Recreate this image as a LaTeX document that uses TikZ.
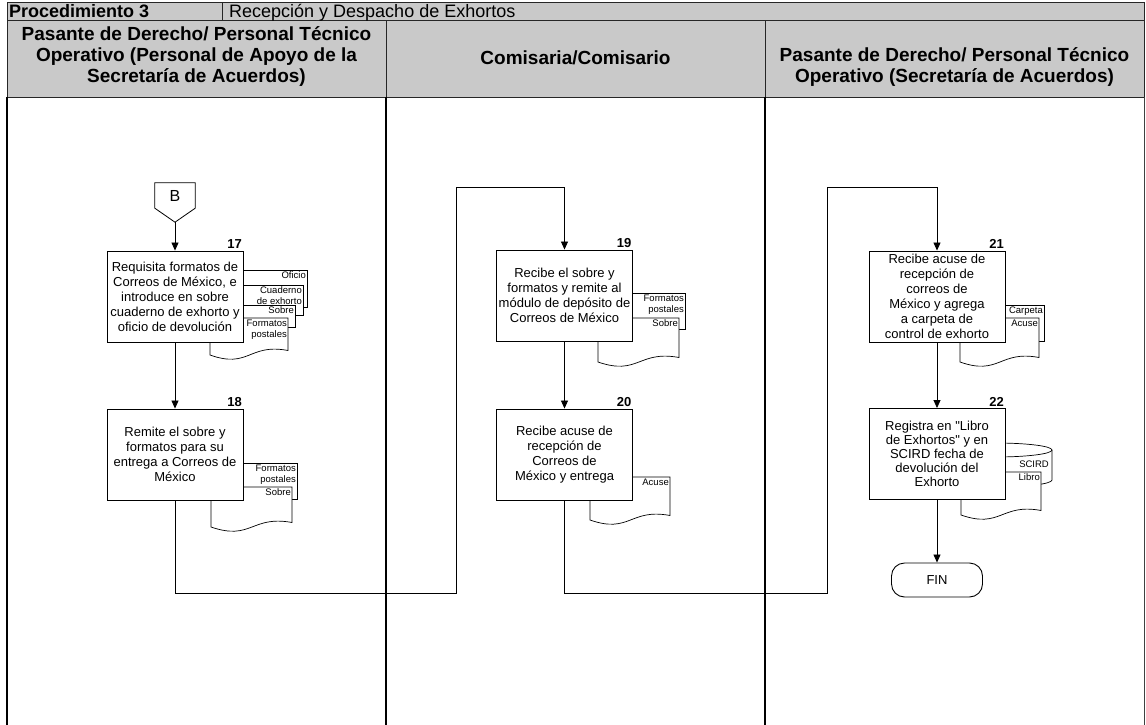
\documentclass[tikz,border=0pt]{standalone}
\usepackage{fontspec}
\setmainfont{Liberation Sans}
\usetikzlibrary{arrows.meta,calc}
\definecolor{hdr}{RGB}{201,201,201}
\newcommand{\sq}{\XeTeXglyph\XeTeXcharglyph"22\relax}
\tikzset{
 task/.style={draw=black, line width=0.9pt, fill=white, minimum width=136pt, minimum height=91pt, inner sep=1pt, align=center, font=\fontsize{13}{15}\selectfont},
 num/.style={font=\bfseries\fontsize{13}{13}\selectfont, inner sep=1.5pt, anchor=south east},
 flow/.style={draw=black, line width=0.8pt, -{Triangle[length=8pt,width=7pt]}},
 plain/.style={draw=black, line width=0.8pt},
 doc/.style={draw=black, line width=0.7pt, fill=white},
 dlbl/.style={font=\fontsize{9.5}{11}\selectfont, inner sep=0.5pt, align=right, anchor=north east},
 hdrtxt/.style={font=\bfseries\fontsize{19}{21}\selectfont, align=center, inner sep=0pt},
 cell/.style={draw=black!85, line width=0.7pt, fill=hdr},
 lane/.style={draw=black, line width=1.8pt},
}
\newcommand{\docwave}[4]{\draw[doc] (#1,#3) -- (#2,#3) -- (#2,#4-4.5) .. controls (#1/2+#2/2,#4-12) and (#1/2+#2/2,#4+14) .. (#1,#4) -- cycle;}
\newcommand{\docflat}[4]{\draw[doc] (#1,#3) rectangle (#2,#4);}
\begin{document}
\begin{tikzpicture}[x=1pt,y=-1pt]
\useasboundingbox (0,0) rectangle (1146,725);
% title row and header
\draw[cell] (7,2) rectangle (222,20);
\draw[cell] (222,2) rectangle (1144,20);
\draw[cell] (7,20) rectangle (386,97);
\draw[cell] (386,20) rectangle (765,97);
\draw[cell] (765,20) rectangle (1144,97);
\node[anchor=base west, font=\bfseries\fontsize{18}{18}\selectfont, inner sep=0pt] (tproc) at (9,17.5) {Procedimiento 3};
\node[anchor=base west, font=\fontsize{18}{18}\selectfont, inner sep=0pt] (tname) at (229,17.5) {Recepción y Despacho de Exhortos};
\node[hdrtxt] (h1) at (196.5,57) {Pasante de Derecho/ Personal Técnico\\Operativo (Personal de Apoyo de la\\Secretaría de Acuerdos)};
\node[hdrtxt] (h2) at (575.5,58) {Comisaria/Comisario};
\node[hdrtxt] (h3) at (954.5,67) {Pasante de Derecho/ Personal Técnico\\Operativo (Secretaría de Acuerdos)};
% lane lines
\draw[line width=1.5pt] (7,97) -- (7,725);
\draw[lane] (386,97) -- (386,725);
\draw[lane] (765,97) -- (765,725);
\draw[black!75, line width=0.8pt] (1144,97) -- (1144,725);
% off-page connector B
\node[minimum width=40pt, minimum height=39pt, inner sep=0pt] (B) at (175,202.5) {};
\draw[plain, fill=white] (B.north west) -- (B.north east) -- ($(B.south east)+(0,-14)$) -- (B.south) -- ($(B.south west)+(0,-14)$) -- cycle;
\node[font=\fontsize{16}{16}\selectfont, inner sep=0pt] (Bt) at ($(B.center)+(0,-6.5)$) {B};
% documents lane 1
\docflat{225}{307}{270}{307}
\docflat{225}{303}{285}{315}
\docflat{225}{295}{305}{327}
\docwave{210}{288}{318}{355}
\node[dlbl] (d17a) at (306.5,271) {Oficio};
\node[dlbl] (d17b) at (302.5,286) {Cuaderno\\de exhorto};
\node[dlbl] (d17c) at (294.5,306) {Sobre};
\node[dlbl] (d17d) at (287.5,319) {Formatos\\postales};
\docflat{225}{297}{463}{499}
\docwave{211}{292}{487}{527}
\node[dlbl] (d18a) at (296.5,464) {Formatos\\postales};
\node[dlbl] (d18b) at (291.5,488) {Sobre};
% documents lane 2
\docflat{610}{685}{293}{329}
\docwave{598}{679}{318}{362}
\node[dlbl] (d19a) at (684.5,294) {Formatos\\postales};
\node[dlbl] (d19b) at (678.5,319) {Sobre};
\docwave{590}{670}{477}{520}
\node[dlbl] (d20a) at (669.5,478) {Acuse};
% documents lane 3
\docflat{990}{1044}{305}{341}
\docwave{960}{1039}{318}{362}
\node[dlbl] (d21a) at (1043.5,306) {Carpeta};
\node[dlbl] (d21b) at (1038.5,319) {Acuse};
\draw[doc] (940,450) arc[start angle=180, end angle=0, x radius=56pt, y radius=7pt] -- (1052,480) arc[start angle=0, end angle=-180, x radius=56pt, y radius=7pt] -- cycle;
\draw[doc, fill=none] (940,450) arc[start angle=180, end angle=360, x radius=56pt, y radius=7pt];
\docwave{961}{1041}{472}{515}
\node[dlbl] (d22a) at (1049.5,460) {SCIRD};
\node[dlbl] (d22b) at (1040.5,473) {Libro};
% task boxes
\node[task] (b17) at (175,296.5) {Requisita formatos de\\Correos de México, e\\introduce en sobre\\cuaderno de exhorto y\\oficio de devolución};
\node[task] (b18) at (175,454.5) {Remite el sobre y\\formatos para su\\entrega a Correos de\\México};
\node[task] (b19) at (564.5,295.5) {Recibe el sobre y\\formatos y remite al\\módulo de depósito de\\Correos de México};
\node[task] (b20) at (564.5,454.5) {Recibe acuse de\\recepción de\\Correos de\\México y entrega};
\node[task] (b21) at (937,296.5) {Recibe acuse de\\recepción de\\correos de\\México y agrega\\a carpeta de\\control de exhorto};
\node[task, font=\fontsize{13}{14}\selectfont] (b22) at (937,454) {Registra en \sq Libro\\de Exhortos\sq{} y en\\SCIRD fecha de\\devolución del\\Exhorto};
\node[num] (n17) at (b17.north east) {17};
\node[num] (n18) at (b18.north east) {18};
\node[num] (n19) at (b19.north east) {19};
\node[num] (n20) at (b20.north east) {20};
\node[num] (n21) at (b21.north east) {21};
\node[num] (n22) at (b22.north east) {22};
\node[draw=black, line width=0.9pt, fill=white, rounded corners=13pt, minimum width=91pt, minimum height=34pt, font=\fontsize{13}{13}\selectfont] (fin) at (937,580) {FIN};
% connectors
\coordinate (c1) at (456,593);
\coordinate (c2) at (456,187);
\coordinate (c3) at (827,593);
\coordinate (c4) at (827,187);
\draw[flow] (B.south) -- (b17.north);
\draw[flow] (b17.south) -- (b18.north);
\draw[flow] (b18.south) |- (c1) -- (c2) -| (b19.north);
\draw[flow] (b19.south) -- (b20.north);
\draw[flow] (b20.south) |- (c3) -- (c4) -| (b21.north);
\draw[flow] (b21.south) -- (b22.north);
\draw[flow] (b22.south) -- (fin.north);
\end{tikzpicture}
\end{document}
